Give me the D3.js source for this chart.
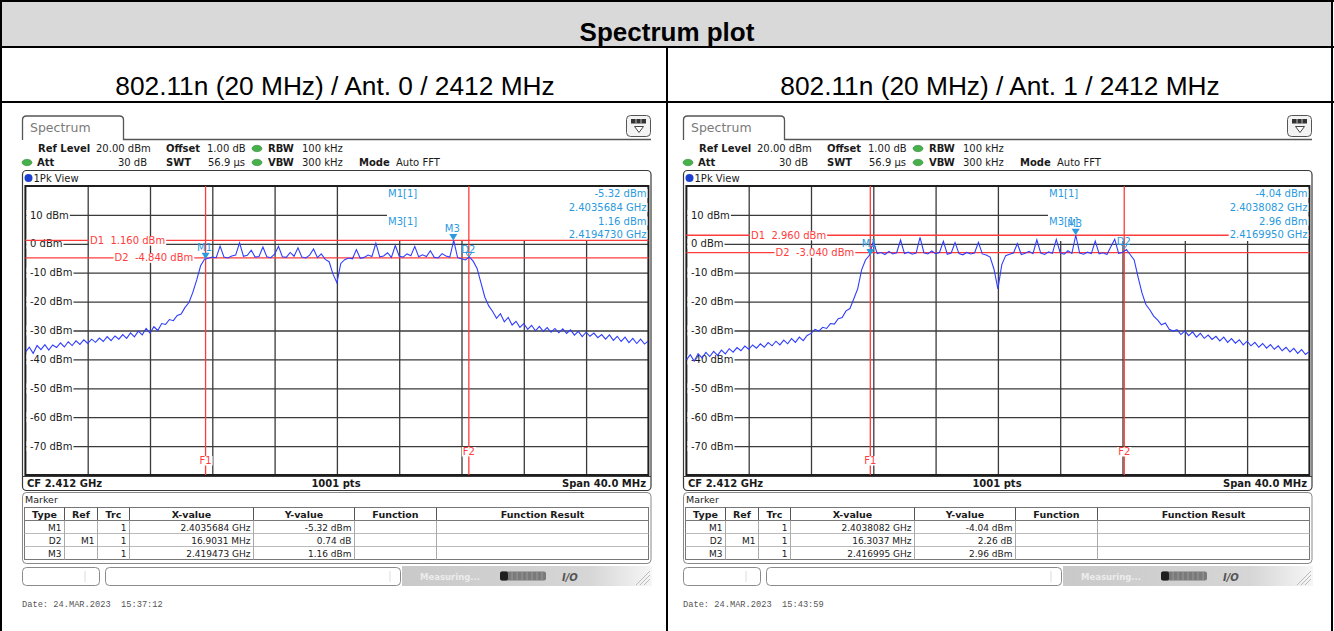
<!DOCTYPE html>
<html>
<head>
<meta charset="utf-8">
<script src="https://cdn.jsdelivr.net/npm/d3@7"></script>
<style>
  body { margin: 0; background: #fff; }
  svg { display: block; }
</style>
</head>
<body>
<svg id="chart" width="1334" height="631"></svg>
<script>
// ---- data ----
const chartTitle = "Spectrum plot";
const panelTitles = ["802.11n (20 MHz) / Ant. 0 / 2412 MHz", "802.11n (20 MHz) / Ant. 1 / 2412 MHz"];

// trace: one value every 0.25 MHz from 2392 MHz to 2432 MHz (dBm)
const traceStartMHz = 2392;
const traceStepMHz = 0.25;
const traceAnt0 = [
  -37.5, -35.8, -37.9, -35.2, -36.6, -34.9, -36.8, -35.0, -35.9, -34.3,
  -35.7, -33.9, -35.2, -33.6, -34.8, -33.2, -34.5, -33.0, -34.1, -32.6,
  -33.8, -32.1, -33.5, -31.9, -33.0, -31.4, -32.7, -30.8, -32.2, -30.2,
  -31.5, -29.3, -30.9, -28.7, -30.0, -27.6, -27.9, -26.2, -26.6, -24.8,
  -24.3, -22.0, -20.3, -16.8, -12.5, -7.6, -5.3, -5.0, -4.6, -4.8,
  -0.8, -4.6, -4.9, -4.2, -3.9, 0.3, -4.3, -4.0, -2.2, -4.6,
  -4.4, -1.1, -4.5, -4.8, -3.6, -0.9, -4.5, -4.7, -3.0, -4.3,
  -1.4, -4.6, -4.9, -3.9, -1.8, -4.8, -3.5, -5.4, -6.2, -10.5,
  -13.5, -6.8, -5.5, -4.9, -5.2, -2.0, -5.0, -4.7, -3.9, -4.4,
  0.2, -4.5, -4.2, -3.1, -4.7, -0.6, -4.3, -4.6, -3.5, -4.1,
  -0.9, -4.5, -3.8, -4.4, -2.4, -4.7, -4.9, -3.4, -4.2, -4.6,
  1.16, -4.8, -5.2, -5.6, -4.6, -6.0, -8.5, -13.5, -18.5, -21.5,
  -23.4, -25.8, -24.2, -27.0, -25.5, -28.1, -26.8, -28.9, -27.6, -29.6,
  -28.2, -30.1, -28.6, -30.3, -29.0, -30.6, -29.3, -30.8, -29.4, -31.0,
  -29.8, -31.6, -30.3, -32.1, -30.6, -32.0, -30.9, -32.5, -31.4, -33.0,
  -31.5, -33.4, -32.0, -33.8, -32.3, -34.2, -32.7, -34.5, -33.0, -34.7,
  -33.6
];
const traceAnt1 = [
  -40.2, -38.4, -40.6, -38.0, -39.5, -37.6, -39.0, -37.2, -38.6, -36.8,
  -38.1, -36.3, -37.5, -35.9, -37.0, -35.4, -36.5, -35.0, -36.1, -34.6,
  -35.8, -34.2, -35.3, -33.7, -35.0, -33.3, -34.6, -32.8, -34.1, -32.3,
  -33.5, -31.7, -31.0, -29.6, -30.2, -28.9, -29.3, -27.6, -27.8, -25.9,
  -25.5, -23.2, -22.4, -19.0, -15.5, -9.0, -5.6, -4.0, 0.9, -3.4,
  -3.0, -3.7, -2.6, -3.5, -3.1, 1.3, -3.4, -2.9, -3.6, -3.2,
  2.2, -3.1, -3.5, -2.5, -3.4, -3.0, 0.9, -3.6, -3.2, 0.4,
  -3.4, -3.8, -3.0, -3.5, -3.2, 0.5, -3.5, -3.9, -4.6, -8.8,
  -15.6, -7.2, -4.1, -3.6, -3.2, 0.1, -3.7, -3.3, -2.6, -3.4,
  1.4, -3.2, -3.7, -2.8, -3.3, 1.5, -3.1, -3.6, -2.4, -3.3,
  2.96, -3.2, -3.6, -2.9, -3.4, 0.9, -3.5, -3.1, -3.7, -1.0,
  1.6, -3.3, -3.0, -2.0, -3.8, -5.6, -11.5, -17.0, -21.0, -22.8,
  -25.0, -26.3, -28.0, -27.4, -29.6, -30.2, -29.7, -31.4, -30.1, -31.8,
  -30.5, -32.3, -31.0, -32.7, -31.6, -33.1, -32.0, -33.6, -32.3, -34.1,
  -32.8, -34.4, -33.2, -35.0, -33.7, -35.3, -34.1, -35.8, -34.5, -36.1,
  -34.9, -36.5, -35.3, -37.0, -35.8, -37.4, -36.2, -37.9, -36.6, -38.3,
  -37.2
];

const levelTicks = [10, 0, -10, -20, -30, -40, -50, -60, -70];

// markers (MHz, dBm)
const markersAnt0 = [
  { name: "M1", mhz: 2403.5684, dbm: -5.32 },
  { name: "D2", mhz: 2420.4715, dbm: -4.58 },
  { name: "M3", mhz: 2419.473, dbm: 1.16 }
];
const markersAnt1 = [
  { name: "M1", mhz: 2403.8082, dbm: -4.04 },
  { name: "D2", mhz: 2420.1119, dbm: -1.78 },
  { name: "M3", mhz: 2416.995, dbm: 2.96 }
];
// display lines D1 / D2 (dBm)
const displayLinesAnt0 = [1.16, -4.84];
const displayLinesAnt1 = [2.96, -3.04];
const displayLabelsAnt0 = ["D1  1.160 dBm", "D2  -4.840 dBm"];
const displayLabelsAnt1 = ["D1  2.960 dBm", "D2  -3.040 dBm"];

const infoAnt0 = ["-5.32 dBm", "2.4035684 GHz", "1.16 dBm", "2.4194730 GHz"];
const infoAnt1 = ["-4.04 dBm", "2.4038082 GHz", "2.96 dBm", "2.4169950 GHz"];

const tableHeader = ["Type", "Ref", "Trc", "X-value", "Y-value", "Function", "Function Result"];
const tableAnt0 = [
  ["M1", "", "1", "2.4035684 GHz", "-5.32 dBm", "", ""],
  ["D2", "M1", "1", "16.9031 MHz", "0.74 dB", "", ""],
  ["M3", "", "1", "2.419473 GHz", "1.16 dBm", "", ""]
];
const tableAnt1 = [
  ["M1", "", "1", "2.4038082 GHz", "-4.04 dBm", "", ""],
  ["D2", "M1", "1", "16.3037 MHz", "2.26 dB", "", ""],
  ["M3", "", "1", "2.416995 GHz", "2.96 dBm", "", ""]
];
const dateStamps = ["Date: 24.MAR.2023  15:37:12", "Date: 24.MAR.2023  15:43:59"];

// ---- drawing ----
const svg = d3.select("#chart");
const FONT = "'DejaVu Sans', Verdana, sans-serif";
const RED = "#ff3c3c";
const MBLUE = "#2a9ae0";

// outer document table
svg.append("rect").attr("x", 1).attr("y", 1).attr("width", 1331).attr("height", 46).attr("fill", "#d9d9d9");
const frame = svg.append("g").attr("stroke", "#000").attr("stroke-width", 2);
frame.append("line").attr("x1", 1).attr("x2", 1).attr("y1", 0).attr("y2", 631);
frame.append("line").attr("x1", 1332).attr("x2", 1332).attr("y1", 0).attr("y2", 631);
frame.append("line").attr("x1", 0).attr("x2", 1334).attr("y1", 1).attr("y2", 1);
frame.append("line").attr("x1", 0).attr("x2", 1334).attr("y1", 47).attr("y2", 47);
frame.append("line").attr("x1", 0).attr("x2", 1334).attr("y1", 102).attr("y2", 102);
frame.append("line").attr("x1", 667).attr("x2", 667).attr("y1", 47).attr("y2", 631);

svg.append("text").attr("x", 667).attr("y", 41).attr("text-anchor", "middle")
  .attr("font-family", "'Liberation Sans', Arial, sans-serif").attr("font-weight", "bold")
  .attr("font-size", 26).text(chartTitle);
panelTitles.forEach((t, i) => {
  svg.append("text").attr("x", i === 0 ? 335 : 1000).attr("y", 95).attr("text-anchor", "middle")
    .attr("font-family", "'Liberation Sans', Arial, sans-serif").attr("font-size", 26.3).text(t);
});

// gradient for status bar
const defs = svg.append("defs");
const grad = defs.append("linearGradient").attr("id", "statusGrad");
grad.append("stop").attr("offset", "0%").attr("stop-color", "#c9c9c9");
grad.append("stop").attr("offset", "75%").attr("stop-color", "#d6d6d6");
grad.append("stop").attr("offset", "100%").attr("stop-color", "#f6f6f6");

function txt(g, x, y, s, opts = {}) {
  return g.append("text").attr("x", x).attr("y", y)
    .attr("font-family", opts.family || FONT)
    .attr("font-size", opts.size || 10)
    .attr("font-weight", opts.bold ? "bold" : "normal")
    .attr("fill", opts.fill || "#1a1a1a")
    .attr("text-anchor", opts.anchor || "start")
    .style("white-space", "pre")
    .text(s);
}

function txtBg(g, x, y, s, opts = {}) {
  const r = g.append("rect").attr("fill", "#fff");
  const t = txt(g, x, y, s, opts);
  const b = t.node().getBBox();
  const pad = opts.pad == null ? 1 : opts.pad;
  r.attr("x", b.x - pad).attr("y", y - 8).attr("width", b.width + pad * 2).attr("height", 9.5);
  return t;
}

function drawPanel(ox, idx, cfg) {
  const g = svg.append("g").attr("transform", `translate(${ox},0)`);
  const x = d3.scaleLinear().domain([2392, 2432]).range([25.4, 648.4]);
  const y = d3.scaleLinear().domain([-80, 20]).range([475, 186]);
  const gw = x.range()[1] - x.range()[0];
  const gh = y.range()[0] - y.range()[1];

  // tab + baseline
  g.append("path").attr("d", "M22.5,140 V120 Q22.5,116 26.5,116 H119.5 Q123.5,116 123.5,120 V139.5 H651")
    .attr("fill", "none").attr("stroke", "#555").attr("stroke-width", 1.3);
  txt(g, 30, 132, "Spectrum", { size: 12.5, fill: "#7a7a7a" });

  // top-right icon
  g.append("rect").attr("x", 626.5).attr("y", 115.5).attr("width", 24).attr("height", 21).attr("rx", 4)
    .attr("fill", "#f3f3f3").attr("stroke", "#555");
  g.append("rect").attr("x", 631).attr("y", 119).attr("width", 15).attr("height", 4.5).attr("fill", "#333");
  g.append("line").attr("x1", 636).attr("x2", 636).attr("y1", 119).attr("y2", 123.5).attr("stroke", "#bbb");
  g.append("line").attr("x1", 641).attr("x2", 641).attr("y1", 119).attr("y2", 123.5).attr("stroke", "#bbb");
  g.append("path").attr("d", "M634.5,126.5 H643.5 L639,132.5 Z").attr("fill", "#fff").attr("stroke", "#444");

  // settings lines
  const hdr = [
    [38, 152, "Ref Level", true], [96, 152, "20.00 dBm"], [166, 152, "Offset", true], [207, 152, "1.00 dB"],
    [268, 152, "RBW", true], [302, 152, "100 kHz"],
    [37, 166, "Att", true], [166, 166, "SWT", true], [208, 166, "56.9 µs"],
    [268, 166, "VBW", true], [302, 166, "300 kHz"], [359, 166, "Mode", true], [396, 166, "Auto FFT"]
  ];
  hdr.forEach(h => txt(g, h[0], h[1], h[2], { bold: !!h[3] }));
  txt(g, 147, 166, "30 dB", { anchor: "end" });
  [[257, 148.5], [27, 162.5], [257, 162.5]].forEach(p => {
    g.append("ellipse").attr("cx", p[0]).attr("cy", p[1]).attr("rx", 5).attr("ry", 3.2)
      .attr("fill", "#46b04a").attr("stroke", "#2e7d32").attr("stroke-width", 0.5);
  });

  // diagram frame
  g.append("rect").attr("x", 22.5).attr("y", 170.5).attr("width", 628.5).attr("height", 320).attr("rx", 4)
    .attr("fill", "#fff").attr("stroke", "#3a3a3a").attr("stroke-width", 1.2);
  g.append("circle").attr("cx", 28.5).attr("cy", 178).attr("r", 4).attr("fill", "#1d3fd0");
  txt(g, 33.5, 181.5, "1Pk View");

  // grid
  g.append("g").attr("transform", `translate(0,${y.range()[0]})`)
    .call(d3.axisBottom(x).tickValues(d3.range(2396, 2432, 4)).tickSize(-gh).tickFormat(""))
    .call(a => { a.select(".domain").remove(); a.selectAll("line").attr("stroke", "#3a3a3a").attr("stroke-width", 1.3); });
  g.append("g").attr("transform", `translate(${x.range()[0]},0)`)
    .call(d3.axisLeft(y).tickValues(d3.range(-70, 20, 10)).tickSize(-gw).tickFormat(""))
    .call(a => { a.select(".domain").remove(); a.selectAll("line").attr("stroke", "#3a3a3a").attr("stroke-width", 1.3); });

  // marker info field (covers grid)
  g.append("rect").attr("x", 387).attr("y", 187).attr("width", x.range()[1] - 387).attr("height", 54).attr("fill", "#fff");

  // border of grid
  g.append("rect").attr("x", x.range()[0]).attr("y", y.range()[1]).attr("width", gw).attr("height", gh)
    .attr("fill", "none").attr("stroke", "#1e1e1e").attr("stroke-width", 2);

  // level labels
  levelTicks.forEach(v => {
    const t = txt(g, 30, y(v) + 3.6, `${v} dBm`);
    const b = t.node().getBBox();
    g.insert("rect", () => t.node()).attr("x", 26.5).attr("y", y(v) - 5).attr("width", b.x + b.width - 26.5 + 1).attr("height", 10).attr("fill", "#fff");
  });

  // display lines and frequency lines
  const m1 = cfg.markers[0], d2 = cfg.markers[1];
  cfg.lines.forEach(v => {
    g.append("line").attr("x1", x.range()[0]).attr("x2", x.range()[1]).attr("y1", y(v)).attr("y2", y(v))
      .attr("stroke", RED).attr("stroke-width", 1.3);
  });
  [m1, d2].forEach(m => {
    g.append("line").attr("x1", x(m.mhz)).attr("x2", x(m.mhz)).attr("y1", y.range()[1]).attr("y2", y.range()[0])
      .attr("stroke", RED).attr("stroke-width", 1.3);
  });
  txtBg(g, 90, y(cfg.lines[0]) + 3.6, cfg.lineLabels[0], { fill: RED });
  txtBg(g, 114.5, y(cfg.lines[1]) + 3.6, cfg.lineLabels[1], { fill: RED });
  txtBg(g, x(m1.mhz), 464, "F1", { fill: RED, anchor: "middle" });
  txtBg(g, x(d2.mhz), 455, "F2", { fill: RED, anchor: "middle" });

  // trace (clip rect lives in the panel's own coordinates)
  const clipId = `clip${idx}`;
  defs.append("clipPath").attr("id", clipId).append("rect")
    .attr("x", x.range()[0]).attr("y", y.range()[1]).attr("width", gw).attr("height", gh);
  const line = d3.line()
    .x((d, i) => x(traceStartMHz + i * traceStepMHz))
    .y(d => y(d));
  g.append("path").datum(cfg.trace).attr("clip-path", `url(#${clipId})`)
    .attr("d", line).attr("fill", "none").attr("stroke", "#2f3dff").attr("stroke-width", 1.1);

  // markers
  const mg = g.append("g");
  cfg.markers.forEach(m => {
    const mx = x(m.mhz), my = y(m.dbm);
    if (m.name === "D2") {
      mg.append("path").attr("d", `M${mx - 3},${my - 4.5} H${mx + 3} L${mx},${my} Z`)
        .attr("fill", "none").attr("stroke", MBLUE).attr("stroke-width", 1);
      txt(mg, mx - 0.5, my - 4, m.name, { fill: MBLUE, anchor: "middle" });
    } else {
      mg.append("path").attr("d", `M${mx - 4},${my - 6.5} H${mx + 4} L${mx},${my} Z`).attr("fill", MBLUE);
      txt(mg, mx - 1, my - 8, m.name, { fill: MBLUE, anchor: "middle" });
    }
  });

  // marker info text
  txt(mg, 388, 197, "M1[1]", { fill: MBLUE });
  txt(mg, 388, 224.5, "M3[1]", { fill: MBLUE });
  [197, 211, 224.5, 238].forEach((by, i) => {
    const t = txt(mg, 646.5, by, cfg.info[i], { fill: MBLUE, anchor: "end" });
    const b = t.node().getBBox();
    mg.insert("rect", () => t.node()).attr("x", b.x - 1).attr("y", by - 8).attr("width", b.width + 2).attr("height", 9).attr("fill", "#fff");
  });

  // bottom info row
  g.append("line").attr("x1", 22.5).attr("x2", 651).attr("y1", 476.5).attr("y2", 476.5).attr("stroke", "#3a3a3a");
  txt(g, 27, 486.5, "CF 2.412 GHz", { bold: true });
  txt(g, 336, 486.5, "1001 pts", { bold: true, anchor: "middle" });
  txt(g, 646, 486.5, "Span 40.0 MHz", { bold: true, anchor: "end" });

  // marker table
  g.append("rect").attr("x", 22.5).attr("y", 492.5).attr("width", 628.5).attr("height", 71).attr("rx", 4)
    .attr("fill", "#fff").attr("stroke", "#888");
  txt(g, 25, 502.5, "Marker", { size: 9.5 });
  const cols = [24.5, 64.5, 97.5, 129.5, 253.5, 354.5, 436.5, 648.5];
  const tTop = 507.5, rowH = 13;
  g.append("rect").attr("x", cols[0]).attr("y", tTop).attr("width", cols[7] - cols[0]).attr("height", rowH * 4)
    .attr("fill", "#fff").attr("stroke", "#777");
  for (let r = 1; r < 4; r++) {
    g.append("line").attr("x1", cols[0]).attr("x2", cols[7]).attr("y1", tTop + r * rowH).attr("y2", tTop + r * rowH)
      .attr("stroke", r === 1 ? "#777" : "#bbb");
  }
  cols.slice(1, -1).forEach(cx => {
    g.append("line").attr("x1", cx).attr("x2", cx).attr("y1", tTop).attr("y2", tTop + rowH)
      .attr("stroke", "#555");
    g.append("line").attr("x1", cx).attr("x2", cx).attr("y1", tTop + rowH).attr("y2", tTop + rowH * 4)
      .attr("stroke", "#aaa");
  });
  tableHeader.forEach((h, i) => txt(g, (cols[i] + cols[i + 1]) / 2, tTop + 10, h, { bold: true, size: 9.5, anchor: "middle" }));
  cfg.table.forEach((row, r) => row.forEach((c, i) => {
    if (c) txt(g, cols[i + 1] - 3, tTop + rowH * (r + 1) + 10, c, { size: 9, anchor: "end" });
  }));

  // status bar
  g.append("rect").attr("x", 402).attr("y", 566).attr("width", 250).attr("height", 20).attr("fill", "url(#statusGrad)");
  g.append("path").attr("d", "M640,585 L650,575 M644,585 L650,579 M636,585 L650,571").attr("stroke", "#bbb");
  g.append("rect").attr("x", 22.5).attr("y", 567.5).attr("width", 77).attr("height", 18).attr("rx", 4)
    .attr("fill", "#fff").attr("stroke", "#8a8a8a");
  g.append("line").attr("x1", 85).attr("x2", 85).attr("y1", 571).attr("y2", 582).attr("stroke", "#ddd");
  g.append("rect").attr("x", 105.5).attr("y", 567.5).attr("width", 295).attr("height", 18).attr("rx", 4)
    .attr("fill", "#fff").attr("stroke", "#8a8a8a");
  g.append("line").attr("x1", 390).attr("x2", 390).attr("y1", 571).attr("y2", 582).attr("stroke", "#ddd");
  txt(g, 420, 580, "Measuring...", { size: 8.5, bold: true, fill: "#ececec" });
  g.append("rect").attr("x", 500).attr("y", 571.5).attr("width", 46).attr("height", 9).attr("rx", 2).attr("fill", "#7a7a7a");
  g.append("rect").attr("x", 500).attr("y", 571.5).attr("width", 8).attr("height", 9).attr("rx", 2).attr("fill", "#1f1f1f");
  d3.range(512, 546, 5).forEach(sx => g.append("line").attr("x1", sx).attr("x2", sx).attr("y1", 572).attr("y2", 580).attr("stroke", "#999"));
  txt(g, 562, 580.5, "I/O", { size: 10, bold: true, fill: "#555" }).attr("font-style", "italic");

  // date stamp
  txt(g, 22, 607, cfg.date, { family: "'Liberation Mono', 'DejaVu Sans Mono', monospace", size: 8.7, fill: "#555" });
}

drawPanel(0, 0, { trace: traceAnt0, markers: markersAnt0, lines: displayLinesAnt0, lineLabels: displayLabelsAnt0, info: infoAnt0, table: tableAnt0, date: dateStamps[0] });
drawPanel(661, 1, { trace: traceAnt1, markers: markersAnt1, lines: displayLinesAnt1, lineLabels: displayLabelsAnt1, info: infoAnt1, table: tableAnt1, date: dateStamps[1] });
</script>
</body>
</html>
